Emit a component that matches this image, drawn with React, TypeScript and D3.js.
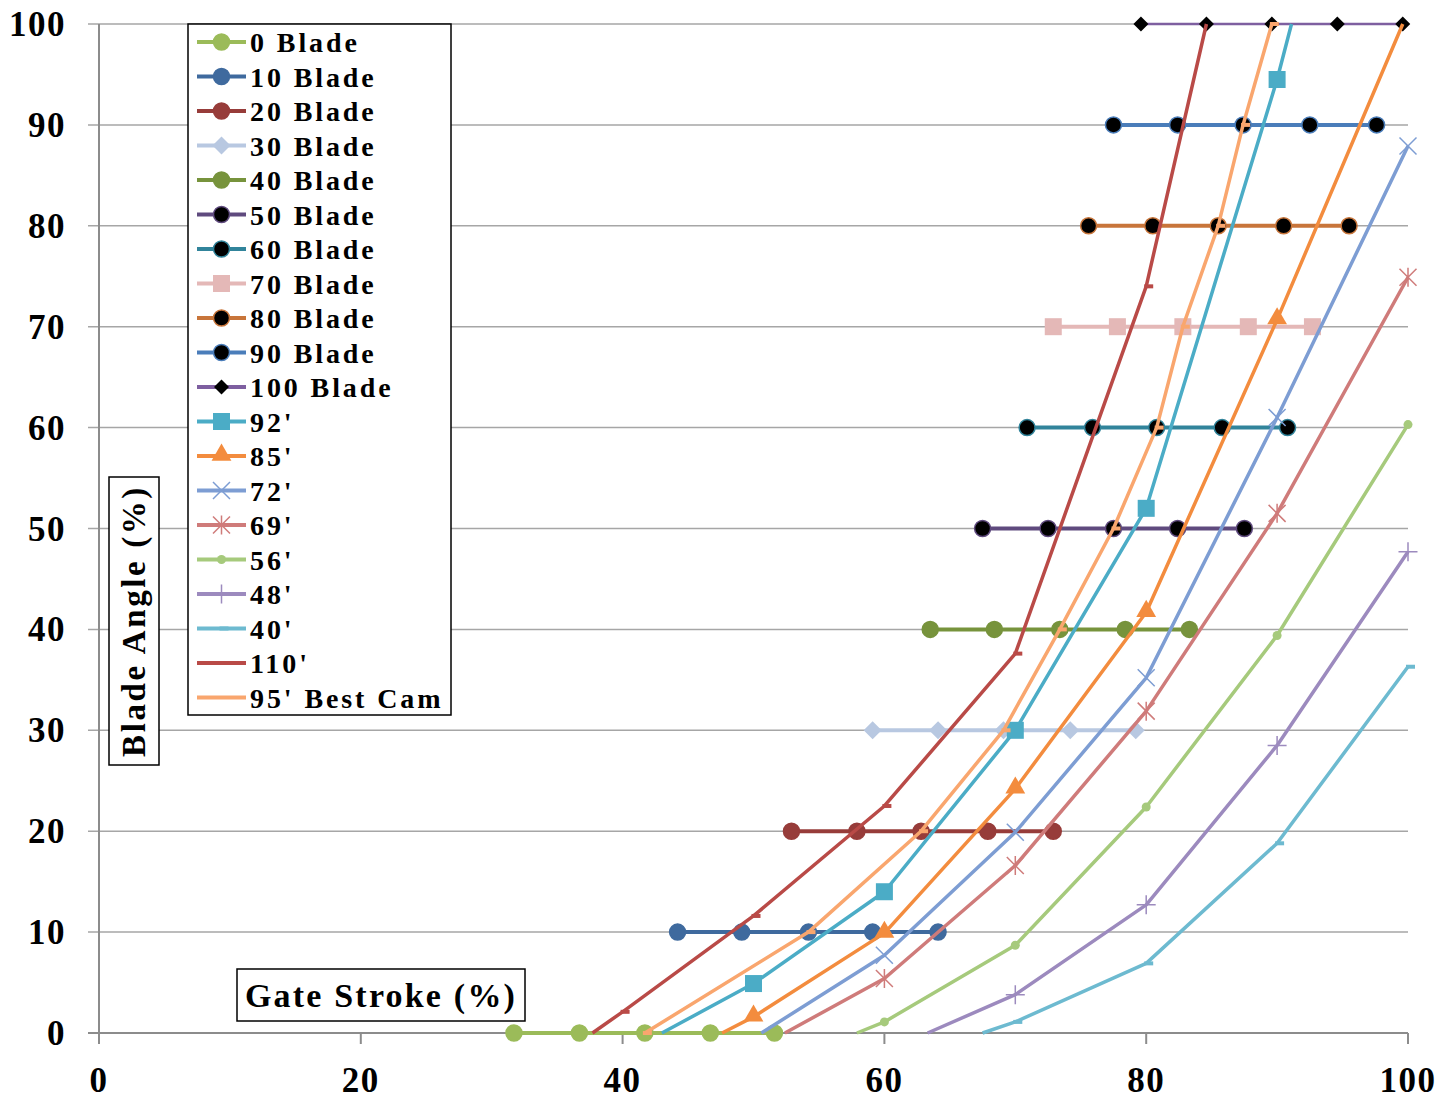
import * as d3 from 'd3';

// horizontal constant-blade lines: gate stroke positions of the 5 points
const bladeAngles = [0, 10, 20, 30, 40, 50, 60, 70, 80, 90, 100];
const blade0 = [31.7, 36.7, 41.7, 46.7, 51.6];
const blade10 = [44.2, 49.1, 54.2, 59.1, 64.1];
const blade20 = [52.9, 57.9, 62.8, 67.9, 72.9];
const blade30 = [59.1, 64.1, 69.1, 74.2, 79.2];
const blade40 = [63.5, 68.4, 73.4, 78.4, 83.3];
const blade50 = [67.5, 72.5, 77.5, 82.4, 87.5];
const blade60 = [70.9, 75.9, 80.8, 85.8, 90.8];
const blade70 = [72.9, 77.8, 82.8, 87.8, 92.7];
const blade80 = [75.6, 80.5, 85.5, 90.5, 95.5];
const blade90 = [77.5, 82.4, 87.4, 92.5, 97.6];
const blade100 = [79.6, 84.6, 89.6, 94.6, 99.6];

// cam curves (gate stroke -> blade angle)
const cam92X = [43.0, 50, 60, 70, 80, 90, 91.1];
const cam92Y = [0, 4.9, 14, 30, 52, 94.5, 100];
const cam85X = [47.6, 50, 60, 70, 80, 90, 99.6];
const cam85Y = [0, 1.6, 9.9, 24.2, 41.7, 70.7, 100];
const cam72X = [50.6, 60, 70, 80, 90, 100];
const cam72Y = [0, 7.7, 19.9, 35.2, 61, 87.9];
const cam69X = [52.4, 60, 70, 80, 90, 100];
const cam69Y = [0, 5.4, 16.6, 31.9, 51.5, 74.9];
const cam56X = [57.9, 60, 70, 80, 90, 100];
const cam56Y = [0, 1.1, 8.7, 22.4, 39.4, 60.3];
const cam48X = [63.3, 70, 80, 90, 100];
const cam48Y = [0, 3.8, 12.7, 28.5, 47.7];
const cam40X = [67.5, 70, 80, 90, 100];
const cam40Y = [0, 1.1, 6.9, 18.8, 36.3];
const cam110X = [37.7, 40, 50, 60, 70, 80, 84.6];
const cam110Y = [0, 2.1, 11.6, 22.5, 37.6, 74, 100];
const cam95X = [41.7, 54.2, 62.8, 69.1, 73.4, 77.5, 80.8, 82.8, 85.5, 87.4, 89.6];
const cam95Y = [0, 10, 20, 30, 40, 50, 60, 70, 80, 90, 100];

type Marker = 'circle' | 'diamond' | 'square' | 'triangle' | 'x' | 'star' | 'dot' | 'plus' | 'dash' | 'none';

type Series = {
  name: string;
  color: string;
  marker: Marker;
  fill: string;
  width: number;
  xs: number[];
  ys: number[];
  legendMarker: boolean;
  markAll: boolean;
};

const bladeSets = [blade0, blade10, blade20, blade30, blade40, blade50, blade60, blade70, blade80, blade90, blade100];
const bladeColors = ['#9BBB59', '#3F6A9E', '#973C3A', '#B8C8E1', '#77933C', '#5F4A7E', '#31849B', '#E4B8B7', '#C8753A', '#4A7DBA', '#7E5FA0'];
const bladeMarkers: Marker[] = ['circle', 'circle', 'circle', 'diamond', 'circle', 'circle', 'circle', 'square', 'circle', 'circle', 'diamond'];
const bladeFills = ['#9BBB59', '#3F6A9E', '#973C3A', '#B8C8E1', '#77933C', '#000', '#000', '#E4B8B7', '#000', '#000', '#000'];

const series: Series[] = [
  ...bladeSets.map((xs, i) => ({
    name: `${bladeAngles[i]} Blade`,
    color: bladeColors[i],
    marker: bladeMarkers[i],
    fill: bladeFills[i],
    width: i === 10 ? 2.5 : 4,
    xs,
    ys: xs.map(() => bladeAngles[i]),
    legendMarker: true,
    markAll: true,
  })),
  { name: "92'", color: '#4BACC6', marker: 'square', fill: '#4BACC6', width: 3.5, xs: cam92X, ys: cam92Y, legendMarker: true, markAll: false },
  { name: "85'", color: '#F38C3E', marker: 'triangle', fill: '#F38C3E', width: 3.5, xs: cam85X, ys: cam85Y, legendMarker: true, markAll: false },
  { name: "72'", color: '#7D9DD3', marker: 'x', fill: 'none', width: 3.5, xs: cam72X, ys: cam72Y, legendMarker: true, markAll: false },
  { name: "69'", color: '#CF7B7A', marker: 'star', fill: 'none', width: 3.5, xs: cam69X, ys: cam69Y, legendMarker: true, markAll: false },
  { name: "56'", color: '#A6CA7C', marker: 'dot', fill: '#A6CA7C', width: 3.5, xs: cam56X, ys: cam56Y, legendMarker: true, markAll: false },
  { name: "48'", color: '#9C8ABE', marker: 'plus', fill: 'none', width: 3.5, xs: cam48X, ys: cam48Y, legendMarker: true, markAll: false },
  { name: "40'", color: '#6DBAD0', marker: 'dash', fill: '#6DBAD0', width: 3.5, xs: cam40X, ys: cam40Y, legendMarker: true, markAll: false },
  { name: "110'", color: '#B94A47', marker: 'dash', fill: '#B94A47', width: 3.5, xs: cam110X, ys: cam110Y, legendMarker: false, markAll: false },
  { name: "95' Best Cam", color: '#F9A66E', marker: 'dash', fill: '#F9A66E', width: 3.5, xs: cam95X, ys: cam95Y, legendMarker: false, markAll: true },
];

const FONT = "'Liberation Serif', 'Times New Roman', serif";

function MarkerShape({ kind, x, y, color, fill, big }: { kind: Marker; x: number; y: number; color: string; fill: string; big: boolean }) {
  const s = 8.5;
  switch (kind) {
    case 'circle':
      return <circle cx={x} cy={y} r={8} fill={fill} stroke={color} strokeWidth={1.5} />;
    case 'dot':
      return <circle cx={x} cy={y} r={4.5} fill={fill} />;
    case 'square':
      return <rect x={x - s} y={y - s} width={2 * s} height={2 * s} fill={fill} />;
    case 'diamond': {
      const d = big ? 9 : 7.5;
      return <path d={`M${x},${y - d}L${x + d},${y}L${x},${y + d}L${x - d},${y}Z`} fill={fill} />;
    }
    case 'triangle':
      return <path d={d3.symbol(d3.symbolTriangle, 170)() || ''} transform={`translate(${x},${y - 1})`} fill={fill} />;
    case 'x':
      return <path d={`M${x - s},${y - s}L${x + s},${y + s}M${x - s},${y + s}L${x + s},${y - s}`} stroke={color} strokeWidth={1.5} />;
    case 'star':
      return <path d={`M${x - s},${y - s}L${x + s},${y + s}M${x - s},${y + s}L${x + s},${y - s}M${x},${y - s - 1}L${x},${y + s + 1}`} stroke={color} strokeWidth={1.5} />;
    case 'plus':
      return <path d={`M${x - s - 1},${y}L${x + s + 1},${y}M${x},${y - s - 1}L${x},${y + s + 1}`} stroke={color} strokeWidth={1.5} />;
    case 'dash':
      return <rect x={x - 2} y={y - 2} width={9} height={4} fill={fill} />;
    default:
      return null;
  }
}

export default function App() {
  const W = 1455;
  const H = 1100;
  const x = d3.scaleLinear([0, 100], [99, 1408]);
  const y = d3.scaleLinear([0, 100], [1033, 24]);
  const line = d3.line<[number, number]>().x((d) => x(d[0])).y((d) => y(d[1]));

  const legendTop = 42;
  const legendStep = 34.5;

  return (
    <svg width={W} height={H} style={{ position: 'absolute', left: 0, top: 0, background: '#fff', fontFamily: FONT }}>
      <rect width={W} height={H} fill="#fff" />
      {/* gridlines */}
      {y.ticks(10).map((t) => (
        <line key={`g${t}`} x1={88} x2={1408} y1={y(t)} y2={y(t)} stroke="#A6A6A6" strokeWidth={1.5} />
      ))}
      {/* axes */}
      <line x1={99} x2={99} y1={24} y2={1033} stroke="#8C8C8C" strokeWidth={2} />
      <line x1={88} x2={1408} y1={1033} y2={1033} stroke="#8C8C8C" strokeWidth={2} />
      {x.ticks(5).map((t) => (
        <line key={`xt${t}`} x1={x(t)} x2={x(t)} y1={1033} y2={1044} stroke="#8C8C8C" strokeWidth={2} />
      ))}
      {y.ticks(10).map((t) => (
        <text key={`yl${t}`} x={66} y={y(t) + 12} textAnchor="end" fontSize={35} fontWeight="bold" letterSpacing={1.5}>
          {t}
        </text>
      ))}
      {x.ticks(5).map((t) => (
        <text key={`xl${t}`} x={x(t)} y={1092} textAnchor="middle" fontSize={35} fontWeight="bold" letterSpacing={1.5}>
          {t}
        </text>
      ))}

      {/* series */}
      {series.map((s) => {
        const pts = s.xs.map((v, i) => [v, s.ys[i]] as [number, number]);
        return (
          <g key={s.name}>
            <path d={line(pts) || ''} fill="none" stroke={s.color} strokeWidth={s.width} strokeLinejoin="round" />
            {pts
              .filter((p) => s.markAll || (Number.isInteger(p[0]) && p[0] % 10 === 0))
              .map((p, i) => (
                <MarkerShape key={i} kind={s.marker} x={x(p[0])} y={y(p[1])} color={s.color} fill={s.fill} big={s.fill !== '#000'} />
              ))}
          </g>
        );
      })}

      {/* legend */}
      <rect x={188} y={24} width={263} height={691} fill="#fff" stroke="#000" strokeWidth={1.5} />
      {series.map((s, i) => {
        const ly = legendTop + i * legendStep;
        return (
          <g key={`lg${s.name}`}>
            <line x1={197} x2={246} y1={ly} y2={ly} stroke={s.color} strokeWidth={4} />
            {s.legendMarker && (
              <MarkerShape kind={s.marker} x={221.5} y={ly} color={s.color} fill={s.fill} big={s.fill !== '#000'} />
            )}
            <text x={250} y={ly + 10} fontSize={28} fontWeight="bold" letterSpacing={2.9}>
              {s.name}
            </text>
          </g>
        );
      })}

      {/* axis titles */}
      <rect x={109} y={477} width={50} height={288} fill="#fff" stroke="#000" strokeWidth={1.5} />
      <text
        transform="translate(145,621) rotate(-90)"
        textAnchor="middle"
        fontSize={33}
        fontWeight="bold"
        letterSpacing={2.6}
      >
        Blade Angle (%)
      </text>
      <rect x={237} y={969} width={288} height={52} fill="#fff" stroke="#000" strokeWidth={1.5} />
      <text x={381} y={1007} textAnchor="middle" fontSize={34} fontWeight="bold" letterSpacing={2.2}>
        Gate Stroke (%)
      </text>
    </svg>
  );
}
